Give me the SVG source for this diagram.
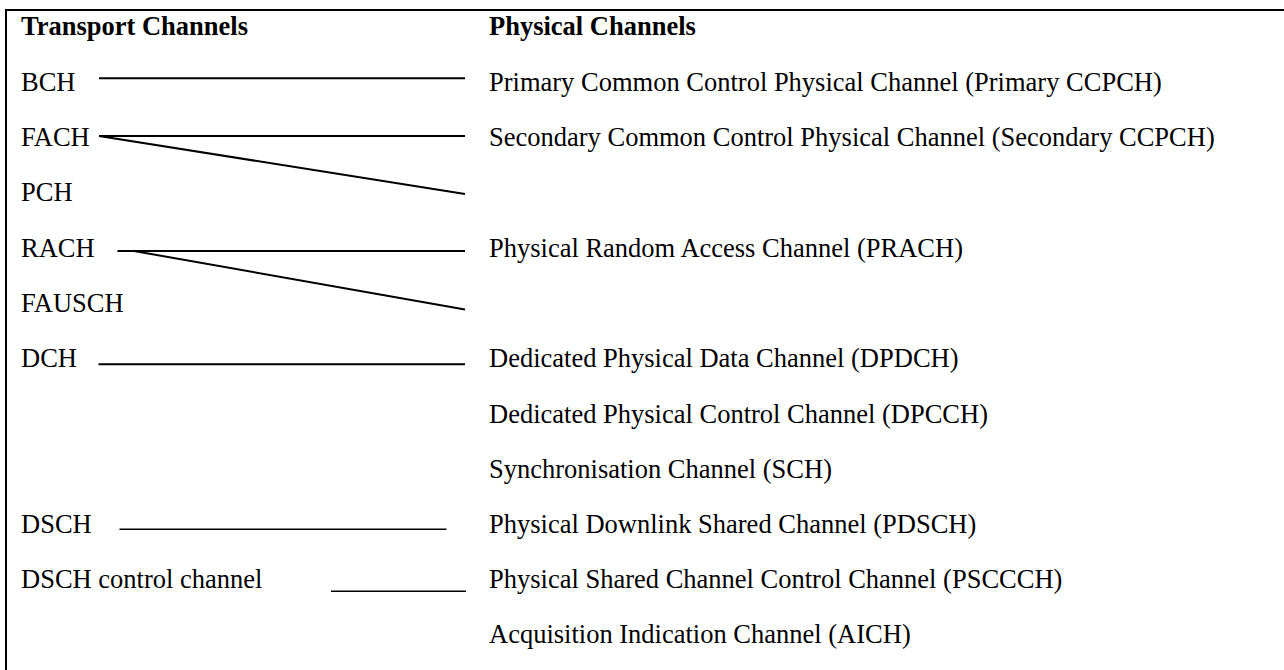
<svg xmlns="http://www.w3.org/2000/svg" width="1284" height="670" viewBox="0 0 1284 670">
<style>
text{font-family:"Liberation Serif","Times New Roman",serif;font-size:26.5px;fill:#000}
.h{font-weight:bold}
.c{stroke:#000;stroke-width:2;fill:none}
.t{stroke:#000;stroke-width:1.5;fill:none}
.b{stroke:#000;stroke-width:2;fill:none}
</style>
<rect width="1284" height="670" fill="#fff"/>
<g id="frame">
<line class="b" x1="6" y1="10" x2="1284" y2="10"/>
<line class="b" x1="6" y1="9" x2="6" y2="670"/>
</g>
<g id="headers">
<text class="h" x="21" y="35">Transport Channels</text>
<text class="h" x="489" y="35">Physical Channels</text>
</g>
<g id="transport">
<g id="t-bch"><text x="21" y="91">BCH</text></g>
<g id="t-fach"><text x="21" y="146">FACH</text></g>
<g id="t-pch"><text x="21" y="201">PCH</text></g>
<g id="t-rach"><text x="21" y="257">RACH</text></g>
<g id="t-fausch"><text x="21" y="312">FAUSCH</text></g>
<g id="t-dch"><text x="21" y="367">DCH</text></g>
<g id="t-dsch"><text x="21" y="533">DSCH</text></g>
<g id="t-dschcc"><text x="21" y="588">DSCH control channel</text></g>
</g>
<g id="physical">
<g id="p-pccpch"><text x="489" y="91">Primary Common Control Physical Channel (Primary CCPCH)</text></g>
<g id="p-sccpch"><text x="489" y="146">Secondary Common Control Physical Channel (Secondary CCPCH)</text></g>
<g id="p-prach"><text x="489" y="257">Physical Random Access Channel (PRACH)</text></g>
<g id="p-dpdch"><text x="489" y="367">Dedicated Physical Data Channel (DPDCH)</text></g>
<g id="p-dpcch"><text x="489" y="423">Dedicated Physical Control Channel (DPCCH)</text></g>
<g id="p-sch"><text x="489" y="478">Synchronisation Channel (SCH)</text></g>
<g id="p-pdsch"><text x="489" y="533">Physical Downlink Shared Channel (PDSCH)</text></g>
<g id="p-pscch"><text x="489" y="588">Physical Shared Channel Control Channel (PSCCCH)</text></g>
<g id="p-aich"><text x="489" y="643">Acquisition Indication Channel (AICH)</text></g>
</g>
<g id="connectors">
<line class="c" x1="99" y1="78.3" x2="465" y2="78.3"/>
<line class="c" x1="99" y1="136" x2="465" y2="136"/>
<line class="c" x1="99" y1="136" x2="465" y2="194"/>
<line class="c" x1="117.5" y1="251" x2="465" y2="251"/>
<line class="c" x1="134" y1="251" x2="465" y2="309.5"/>
<line class="c" x1="98.5" y1="364.3" x2="465" y2="364.3"/>
<line class="t" x1="119.5" y1="529.3" x2="446.5" y2="529.3"/>
<line class="t" x1="331" y1="591.3" x2="466" y2="591.3"/>
</g>
</svg>
